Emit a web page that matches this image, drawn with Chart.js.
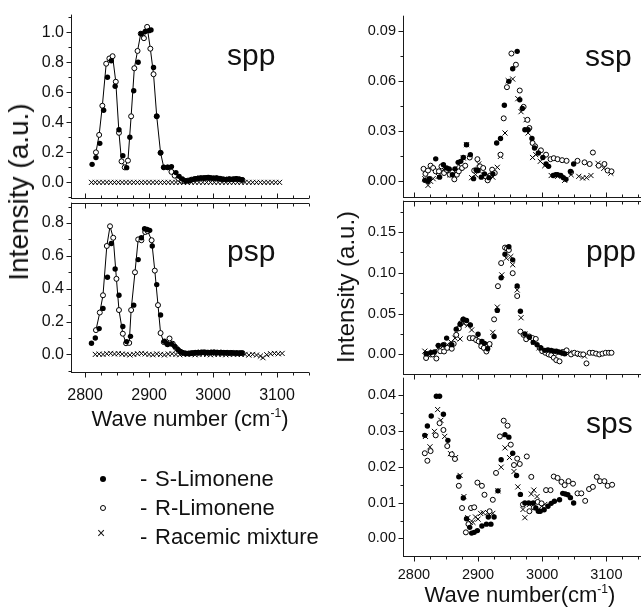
<!DOCTYPE html>
<html>
<head>
<meta charset="utf-8">
<script src="https://cdn.jsdelivr.net/npm/chart.js@4.4.0/dist/chart.umd.min.js"></script>
<style>
  body { margin: 0; width: 642px; height: 609px; overflow: hidden; background: #fff; position: relative;
         font-family: 'Liberation Sans', Arial, Helvetica, sans-serif; color: #111; }
  canvas { position: absolute; }
  .t { position: absolute; white-space: nowrap; line-height: 1; }
  .t sup { font-size: 0.55em; vertical-align: 0.75em; }
  .mk { position: absolute; box-sizing: border-box; border-radius: 50%; }
</style>
</head>
<body>

<canvas id="spp"></canvas>
<canvas id="psp"></canvas>
<canvas id="ssp"></canvas>
<canvas id="ppp"></canvas>
<canvas id="sps"></canvas>

<div class="t" style="left:227px;top:40px;font-size:30px">spp</div>
<div class="t" style="left:227px;top:236px;font-size:30px">psp</div>
<div class="t" style="left:585px;top:41px;font-size:30px">ssp</div>
<div class="t" style="left:586px;top:236px;font-size:30px">ppp</div>
<div class="t" style="left:586px;top:408px;font-size:30px">sps</div>

<div class="t" style="left:190px;top:407px;font-size:22px;transform:translateX(-50%)">Wave number (cm<sup>-1</sup>)</div>
<div class="t" style="left:520px;top:583px;font-size:22px;transform:translateX(-50%)">Wave number(cm<sup>-1</sup>)</div>
<div class="t" style="left:19px;top:192px;font-size:28px;transform:translate(-50%,-50%) rotate(-90deg)">Intensity (a.u.)</div>
<div class="t" style="left:346px;top:287px;font-size:24px;transform:translate(-50%,-50%) rotate(-90deg)">Intensity (a.u.)</div>

<!-- legend -->
<div class="mk" style="left:100px;top:476px;width:6px;height:6px;background:#000"></div>
<div class="mk" style="left:100px;top:505px;width:6px;height:6px;border:1px solid #000"></div>
<div class="t" style="left:97px;top:526px;font-size:14px">&times;</div>
<div class="t" style="left:140px;top:468px;font-size:22px">-</div>
<div class="t" style="left:140px;top:497px;font-size:22px">-</div>
<div class="t" style="left:140px;top:526px;font-size:22px">-</div>
<div class="t" style="left:155px;top:468px;font-size:22px">S-Limonene</div>
<div class="t" style="left:155px;top:497px;font-size:22px">R-Limonene</div>
<div class="t" style="left:155px;top:526px;font-size:22px">Racemic mixture</div>

<script>
// ---------------------------------------------------------------- data
// [wave number (cm-1), intensity (a.u.)]

const sppS = [[2811,0.12],[2817,0.165],[2823,0.26],[2829,0.48],[2835,0.70],[2841,0.81],[2847,0.64],[2853,0.35],
  [2859,0.178],[2865,0.098],[2870,0.30],[2876,0.61],[2883,0.80],[2888,0.99],[2894,1.005],[2900,1.01],[2903,1.015],
  [2907,0.765],[2912,0.44],[2918,0.197],[2923,0.10],[2929,0.10],[2935,0.105],[2942,0.065],[2947,0.04],
  [2952,0.022],[2957,0.012],[2961,0.01],[2965,0.014],[2969,0.02],[2973,0.024],[2977,0.027],[2981,0.03],[2985,0.03],
  [2989,0.031],[2993,0.032],[2997,0.03],[3001,0.028],[3005,0.03],[3009,0.026],[3013,0.022],[3017,0.02],[3021,0.02],
  [3025,0.022],[3029,0.02],[3033,0.022],[3037,0.025],[3041,0.021],[3045,0.018]];
const sppR = [[2817,0.20],[2822,0.316],[2827,0.51],[2833,0.79],[2838,0.825],[2843,0.84],[2848,0.67],[2853,0.33],
  [2857,0.14],[2862,0.10],[2867,0.145],[2872,0.44],[2877,0.76],[2882,0.875],[2887,0.99],[2892,0.96],[2897,1.035],
  [2902,0.89],[2907,0.72],[2912,0.44],[2918,0.197],[2923,0.10],[2929,0.10],[2935,0.07],[2940,0.045],[2946,0.025],
  [2951,0.012],[2956,0.008],[2961,0.012],[2966,0.018],[2971,0.022],[2976,0.025],[2981,0.027],[2986,0.028],
  [2991,0.03],[2996,0.028],[3001,0.026],[3006,0.027],[3011,0.024],[3016,0.02],[3021,0.018],[3026,0.02],
  [3031,0.02],[3036,0.022],[3041,0.02],[3046,0.016]];
const sppRac = [[2810,0],[2816,0],[2822,0],[2828,0],[2834,0],[2840,0],[2846,0],[2852,0],[2858,0],[2864,0],
  [2870,0],[2876,0],[2882,0],[2888,0],[2894,0],[2900,0],[2906,0],[2912,0],[2918,0],[2924,0],[2930,0],[2936,0],
  [2942,0],[2948,0],[2954,0],[2960,0],[2966,0],[2972,0],[2978,0],[2984,0],[2990,0],[2996,0],[3002,0],[3008,0],
  [3014,0],[3020,0],[3026,0],[3032,0],[3038,0],[3044,0],[3050,0],[3056,0],[3062,0],[3068,0],[3074,0],[3080,0],
  [3086,0],[3092,0],[3098,0],[3104,0]];

const pspS = [[2810,0.068],[2816,0.10],[2822,0.157],[2828,0.28],[2835,0.47],[2841,0.675],[2847,0.52],[2853,0.36],
  [2859,0.17],[2865,0.078],[2871,0.11],[2876,0.30],[2883,0.577],[2888,0.71],[2893,0.765],[2897,0.76],[2901,0.755],
  [2905,0.66],[2912,0.425],[2918,0.24],[2924,0.08],[2929,0.06],[2935,0.063],[2940,0.05],[2945,0.03],[2949,0.018],
  [2953,0.01],[2957,0.006],[2961,0.005],[2965,0.007],[2969,0.009],[2973,0.011],[2977,0.012],[2981,0.012],
  [2985,0.013],[2989,0.012],[2993,0.011],[2997,0.012],[3001,0.013],[3005,0.012],[3009,0.011],[3013,0.012],
  [3017,0.01],[3021,0.011],[3025,0.009],[3029,0.01],[3033,0.008],[3037,0.009],[3041,0.008],[3045,0.009]];
const pspR = [[2817,0.148],[2823,0.255],[2828,0.36],[2834,0.66],[2839,0.78],[2844,0.71],[2849,0.46],[2853,0.27],
  [2859,0.126],[2864,0.068],[2869,0.07],[2872,0.27],[2878,0.50],[2883,0.70],[2888,0.695],[2894,0.745],[2898,0.75],
  [2904,0.695],[2909,0.51],[2914,0.30],[2918,0.13],[2923,0.075],[2928,0.065],[2932,0.097],[2937,0.065],
  [2942,0.04],[2947,0.02],[2952,0.01],[2957,0.006],[2962,0.006],[2967,0.008],[2972,0.01],[2977,0.011],
  [2982,0.012],[2987,0.012],[2992,0.011],[2997,0.012],[3002,0.012],[3007,0.011],[3012,0.011],[3017,0.01],
  [3022,0.01],[3027,0.009],[3032,0.009],[3037,0.008],[3042,0.008],[3046,0.008]];
const pspRac = [[2816,0],[2822,0.002],[2828,0],[2834,0.004],[2840,0.006],[2846,0.003],[2852,0.005],[2858,0.002],
  [2864,0],[2870,-0.003],[2876,0],[2882,0.004],[2888,0.006],[2894,0.003],[2900,0],[2906,-0.002],[2912,0.003],
  [2918,0],[2924,-0.003],[2930,0.002],[2936,0.004],[2942,0],[2948,-0.002],[2954,0],[2960,0.002],[2966,0],
  [2972,-0.002],[2978,0],[2984,0.003],[2990,0],[2996,-0.002],[3002,0],[3008,0.002],[3014,0],[3020,-0.002],
  [3026,0],[3032,0.002],[3038,0],[3044,0],[3050,0],[3056,-0.004],[3062,0],[3068,-0.004],[3074,-0.01],
  [3078,-0.02],[3084,-0.002],[3090,0.004],[3096,0.006],[3102,0.004],[3108,0.006]];

const sspS = [[2817,0.0006],[2822,0.0],[2824,0.0016],[2834,0.0135],[2840,0.0025],[2846,0.010],[2851,0.008],
  [2855,0.0075],[2860,0.004],[2864,0.0075],[2869,0.0114],[2873,0.012],[2877,0.0143],[2882,0.022],[2888,0.016],
  [2893,0.0016],[2897,0.0069],[2900,0.0065],[2905,0.0025],[2910,0.0045],[2917,0.0022],[2923,0.0045],
  [2929,0.023],[2935,0.0257],[2941,0.0457],[2948,0.060],[2954,0.0676],[2961,0.078],[2965,0.049],[2969,0.0437],
  [2973,0.031],[2978,0.031],[2984,0.0257],[2988,0.020],[2994,0.017],[3001,0.0143],[3006,0.0104],[3010,0.009],
  [3017,0.0035],[3021,0.004],[3024,0.004],[3029,0.0035],[3033,0.0022],[3037,0.0012],[3044,0.006],[3049,0.0104]];
const sspR = [[2815,0.0075],[2818,0.0045],[2822,0.0065],[2826,0.0094],[2830,0.008],[2834,0.006],[2839,0.006],
  [2843,0.009],[2847,0.005],[2851,0.0069],[2856,0.004],[2860,0.0055],[2863,0.0012],[2867,0.004],[2870,0.006],
  [2875,0.008],[2880,0.0094],[2887,0.0143],[2894,0.0065],[2899,0.0133],[2903,0.009],[2908,0.008],[2912,0.003],
  [2915,0.0006],[2919,0.0035],[2922,0.007],[2926,0.005],[2935,0.016],[2940,0.0378],[2945,0.0565],[2952,0.0767],
  [2959,0.070],[2965,0.0545],[2971,0.0447],[2977,0.0369],[2980,0.032],[2985,0.023],[2989,0.021],[2998,0.0186],
  [3006,0.016],[3013,0.0133],[3018,0.0139],[3024,0.0133],[3031,0.0127],[3038,0.0123],[3045,0.0055],
  [3055,0.0123],[3066,0.0114],[3074,0.0104],[3079,0.0173],[3088,0.0094],[3097,0.0104],[3102,0.0065],[3108,0.006]];
const sspRac = [[2817,0.0016],[2822,-0.0024],[2826,0.0],[2830,0.0016],[2838,0.003],[2843,0.006],[2848,0.0065],
  [2856,0.004],[2862,0.006],[2870,0.010],[2877,0.014],[2882,0.022],[2890,0.0022],[2896,0.004],[2901,0.0104],
  [2908,0.004],[2915,0.0022],[2923,0.0025],[2930,0.0084],[2935,0.015],[2942,0.029],[2947,0.0604],[2954,0.0614],
  [2962,0.0496],[2967,0.0418],[2975,0.037],[2978,0.029],[2985,0.0143],[2990,0.016],[2997,0.012],[3004,0.0094],
  [3014,0.0035],[3024,0.003],[3035,0.0006],[3045,0.004],[3057,0.003],[3063,0.002],[3069,0.0022],[3076,0.0035],
  [3087,0.0108],[3096,0.0078],[3107,0.0049]];

const pppS = [[2819,0.0008],[2826,0.002],[2832,0.003],[2838,0.011],[2846,0.012],[2851,0.020],[2859,0.012],
  [2866,0.031],[2872,0.037],[2877,0.043],[2882,0.0416],[2888,0.036],[2900,0.0248],[2906,0.016],[2910,0.0136],
  [2915,0.007],[2925,0.022],[2930,0.054],[2936,0.094],[2942,0.1228],[2948,0.132],[2954,0.116],[2961,0.084],
  [2966,0.053],[2973,0.025],[2980,0.021],[2986,0.0148],[2992,0.012],[2998,0.008],[3004,0.005],[3009,0.0056],
  [3014,0.005],[3018,0.004],[3022,0.004],[3026,0.003],[3030,0.002],[3035,0.0008]];
const pppR = [[2819,-0.0044],[2826,0.0],[2829,0.0],[2835,-0.005],[2841,0.004],[2847,0.0036],[2852,0.008],
  [2859,0.007],[2862,0.013],[2866,0.024],[2870,0.032],[2873,0.038],[2877,0.043],[2882,0.039],[2887,0.020],
  [2892,0.020],[2897,0.0176],[2901,0.016],[2905,0.010],[2909,0.008],[2913,0.0036],[2918,0.0128],[2925,0.043],
  [2931,0.0837],[2936,0.112],[2942,0.131],[2945,0.130],[2948,0.128],[2954,0.0996],[2961,0.0716],[2966,0.028],
  [2971,0.024],[2975,0.0187],[2980,0.022],[2985,0.02],[2990,0.019],[2996,0.008],[3000,0.004],[3005,0.002],
  [3010,0.0],[3014,-0.001],[3018,-0.004],[3022,-0.007],[3027,-0.0085],[3032,0.003],[3038,0.005],[3045,0.0],
  [3050,0.002],[3055,0.001],[3060,0.0],[3064,0.0],[3069,-0.011],[3074,0.002],[3079,0.002],[3084,0.001],
  [3089,0.0],[3094,0.001],[3099,0.002],[3104,0.002],[3108,0.002]];
const pppRac = [[2817,0.004],[2824,0.001],[2830,0.003],[2838,0.008],[2845,0.010],[2852,0.012],[2858,0.015],
  [2864,0.02],[2872,0.019],[2878,0.038],[2884,0.036],[2890,0.03],[2898,0.02],[2905,0.015],[2912,0.008],
  [2918,0.012],[2923,0.027],[2930,0.058],[2937,0.0975],[2944,0.118],[2951,0.12],[2954,0.11],[2961,0.079],
  [2967,0.045],[2973,0.025],[2980,0.02],[2987,0.015],[2995,0.008],[3003,0.005],[3010,0.004],[3018,0.003],
  [3026,0.002],[3034,0.001],[3042,0.002],[3050,0.001],[3058,0.0],[3066,-0.002]];

const spsS = [[2817,0.0288],[2821,0.0314],[2827,0.0342],[2835,0.0397],[2840,0.0397],[2846,0.0347],
  [2853,0.0274],[2870,0.0172],[2877,0.0113],[2882,0.0055],[2887,0.0031],[2890,0.0015],[2894,0.0017],
  [2899,0.0022],[2906,0.0035],[2913,0.004],[2916,0.006],[2920,0.004],[2925,0.006],[2931,0.0133],[2936,0.022],
  [2942,0.029],[2948,0.0283],[2954,0.0238],[2960,0.0176],[2966,0.0123],[2973,0.0099],[2979,0.0099],
  [2986,0.0099],[2990,0.0085],[2994,0.0076],[2997,0.0076],[3003,0.008],[3009,0.009],[3014,0.0098],
  [3019,0.0104],[3027,0.0108],[3032,0.0126],[3036,0.0124],[3040,0.0122],[3044,0.0114],[3049,0.0099]];
const spsR = [[2817,0.0238],[2821,0.0217],[2826,0.0244],[2834,0.0288],[2840,0.0322],[2846,0.0303],
  [2852,0.0258],[2859,0.0235],[2864,0.0222],[2870,0.0147],[2875,0.0085],[2881,0.0017],[2885,0.004],
  [2889,0.0085],[2894,0.0087],[2899,0.0156],[2906,0.0147],[2910,0.0122],[2918,0.0076],[2923,0.0108],
  [2928,0.0183],[2934,0.0285],[2940,0.0329],[2946,0.0315],[2951,0.0262],[2956,0.0205],[2961,0.0223],
  [2965,0.0208],[2970,0.0095],[2976,0.0229],[2980,0.0076],[2983,0.0172],[2987,0.0087],[2993,0.0102],
  [2999,0.0098],[3006,0.0135],[3013,0.0135],[3018,0.0173],[3024,0.0169],[3030,0.0158],[3035,0.0149],
  [3041,0.016],[3048,0.0153],[3055,0.0126],[3061,0.0126],[3067,0.0105],[3073,0.0138],[3079,0.0144],
  [3085,0.0172],[3090,0.016],[3097,0.016],[3102,0.0147],[3109,0.015]];
const spsRac = [[2818,0.0285],[2825,0.0256],[2832,0.0299],[2837,0.036],[2842,0.033],[2848,0.0285],
  [2857,0.0237],[2865,0.0226],[2872,0.0176],[2878,0.0117],[2884,0.0058],[2888,0.0045],[2892,0.0045],
  [2896,0.006],[2900,0.0054],[2904,0.007],[2908,0.0072],[2915,0.0072],[2923,0.007],[2931,0.0133],
  [2936,0.0199],[2942,0.0253],[2949,0.0226],[2956,0.0187],[2962,0.0144],[2970,0.0081],[2973,0.0058],
  [2980,0.0095],[2983,0.0124],[2987,0.0135],[2992,0.0117],[2999,0.009],[3004,0.0095]];

// tick labels
const waveTicks = [2800, 2900, 3000, 3100];
const sppTicks = [0.0, 0.2, 0.4, 0.6, 0.8, 1.0];
const pspTicks = [0.0, 0.2, 0.4, 0.6, 0.8];
const sspTicks = [0.00, 0.03, 0.06, 0.09];
const pppTicks = [0.00, 0.05, 0.10, 0.15];
const spsTicks = [0.00, 0.01, 0.02, 0.03, 0.04];

// ---------------------------------------------------------------- axes drawn Origin-style

const frame = {
  id: 'frame',
  afterDraw(chart, args, o) {
    const ctx = chart.ctx, a = chart.chartArea, xs = chart.scales.x, ys = chart.scales.y;
    ctx.save();
    ctx.strokeStyle = '#1a1a1a';
    ctx.lineWidth = 1;
    ctx.beginPath();
    const lx = Math.round(a.left) + 0.5;
    ctx.moveTo(lx, a.top);
    ctx.lineTo(lx, a.bottom + 0.5);
    // y ticks, pointing out
    for (let v = Math.ceil(ys.min / o.yMinor - 1e-6) * o.yMinor; v <= ys.max; v += o.yMinor) {
      const major = o.yTicks.some(t => Math.abs(t - v) < o.yMinor / 10);
      const py = Math.round(ys.getPixelForValue(v)) + 0.5;
      ctx.moveTo(lx, py);
      ctx.lineTo(lx - (major ? 5 : 3), py);
    }
    const hline = (yy, dir) => {
      const py = Math.round(yy) + 0.5;
      ctx.moveTo(a.left, py);
      ctx.lineTo(a.right, py);
      for (let v = Math.ceil(xs.min / 25) * 25; v <= xs.max; v += 25) {
        const len = v % 100 === 0 ? 5 : 3;
        const px = Math.round(xs.getPixelForValue(v)) + 0.5;
        if (dir === 'in' || dir === 'both') { ctx.moveTo(px, py); ctx.lineTo(px, py - len); }
        if (dir === 'out' || dir === 'both') { ctx.moveTo(px, py); ctx.lineTo(px, py + len); }
      }
    };
    hline(a.bottom, o.bottom);
    if (o.top) hline(a.top, 'out');
    ctx.stroke();
    ctx.restore();
  }
};

const toXY = arr => arr.map(p => ({ x: p[0], y: p[1] }));

function makePanel(id, rect, xr, yr, yTicks, yMinor, digits, showX, fontSize, bottomDir, topTicks, withLine, sets) {
  const cv = document.getElementById(id);
  const padL = 70, padT = 12, padR = 4, xH = 40;
  cv.style.left = (rect[0] - padL) + 'px';
  cv.style.top = (rect[1] - padT) + 'px';
  cv.width = rect[2] - rect[0] + padL + padR;
  cv.height = rect[3] - rect[1] + padT + xH;
  const font = { family: "'Liberation Sans', Arial, sans-serif", size: fontSize };
  return new Chart(cv, {
    type: 'scatter',
    data: {
      datasets: [
        { label: 'S-Limonene', data: toXY(sets[0]), pointStyle: 'circle', pointRadius: 2.7,
          pointBackgroundColor: '#000', pointBorderColor: '#000', pointBorderWidth: 0 },
        { label: 'R-Limonene', data: toXY(sets[1]), pointStyle: 'circle', pointRadius: 2.5,
          pointBackgroundColor: '#fff', pointBorderColor: '#000', pointBorderWidth: 1,
          showLine: withLine, borderColor: '#000', borderWidth: 1 },
        { label: 'Racemic mixture', data: toXY(sets[2]), pointStyle: 'crossRot', pointRadius: 3.6,
          pointBorderColor: '#000', pointBorderWidth: 1 }
      ]
    },
    plugins: [frame],
    options: {
      responsive: false,
      animation: false,
      devicePixelRatio: 1,
      layout: { padding: { left: 0, top: padT, right: padR, bottom: 0 } },
      plugins: {
        legend: { display: false },
        tooltip: { enabled: false },
        frame: { yTicks: yTicks, yMinor: yMinor, bottom: bottomDir, top: topTicks }
      },
      scales: {
        x: {
          type: 'linear', min: xr[0], max: xr[1],
          afterFit: s => { s.height = xH; },
          afterBuildTicks: s => { s.ticks = waveTicks.map(v => ({ value: v })); },
          ticks: { display: showX, padding: fontSize === 16 ? 14 : 10, maxRotation: 0, autoSkip: false,
                   color: '#111', font: font, callback: v => String(v) },
          grid: { display: false, drawTicks: false },
          border: { display: false }
        },
        y: {
          type: 'linear', min: yr[0], max: yr[1],
          afterFit: s => { s.width = padL; },
          afterBuildTicks: s => { s.ticks = yTicks.map(v => ({ value: v })); },
          ticks: { padding: 7, autoSkip: false, color: '#111', font: font, callback: v => v.toFixed(digits) },
          grid: { display: false, drawTicks: false },
          border: { display: false }
        }
      }
    }
  });
}

const leftX = [2778, 3150];
const rightX = [2783, 3154];

makePanel('spp', [71, 10, 310, 198], leftX, [-0.104, 1.117], sppTicks, 0.1, 1, false, 16, 'in', false, true,
  [sppS, sppR, sppRac]);
makePanel('psp', [71, 198, 310, 372], leftX, [-0.107, 0.924], pspTicks, 0.1, 1, true, 16, 'out', true, true,
  [pspS, pspR, pspRac]);
makePanel('ssp', [403, 12, 642, 197], rightX, [-0.0094, 0.0994], sspTicks, 0.015, 2, false, 14.5, 'in', false, false,
  [sspS, sspR, sspRac]);
makePanel('ppp', [403, 197, 642, 374], rightX, [-0.024, 0.1885], pppTicks, 0.025, 2, false, 14.5, 'out', true, false,
  [pppS, pppR, pppRac]);
makePanel('sps', [403, 374, 642, 556], rightX, [-0.0049, 0.0449], spsTicks, 0.005, 2, true, 14.5, 'out', false, false,
  [spsS, spsR, spsRac]);
</script>
</body>
</html>
